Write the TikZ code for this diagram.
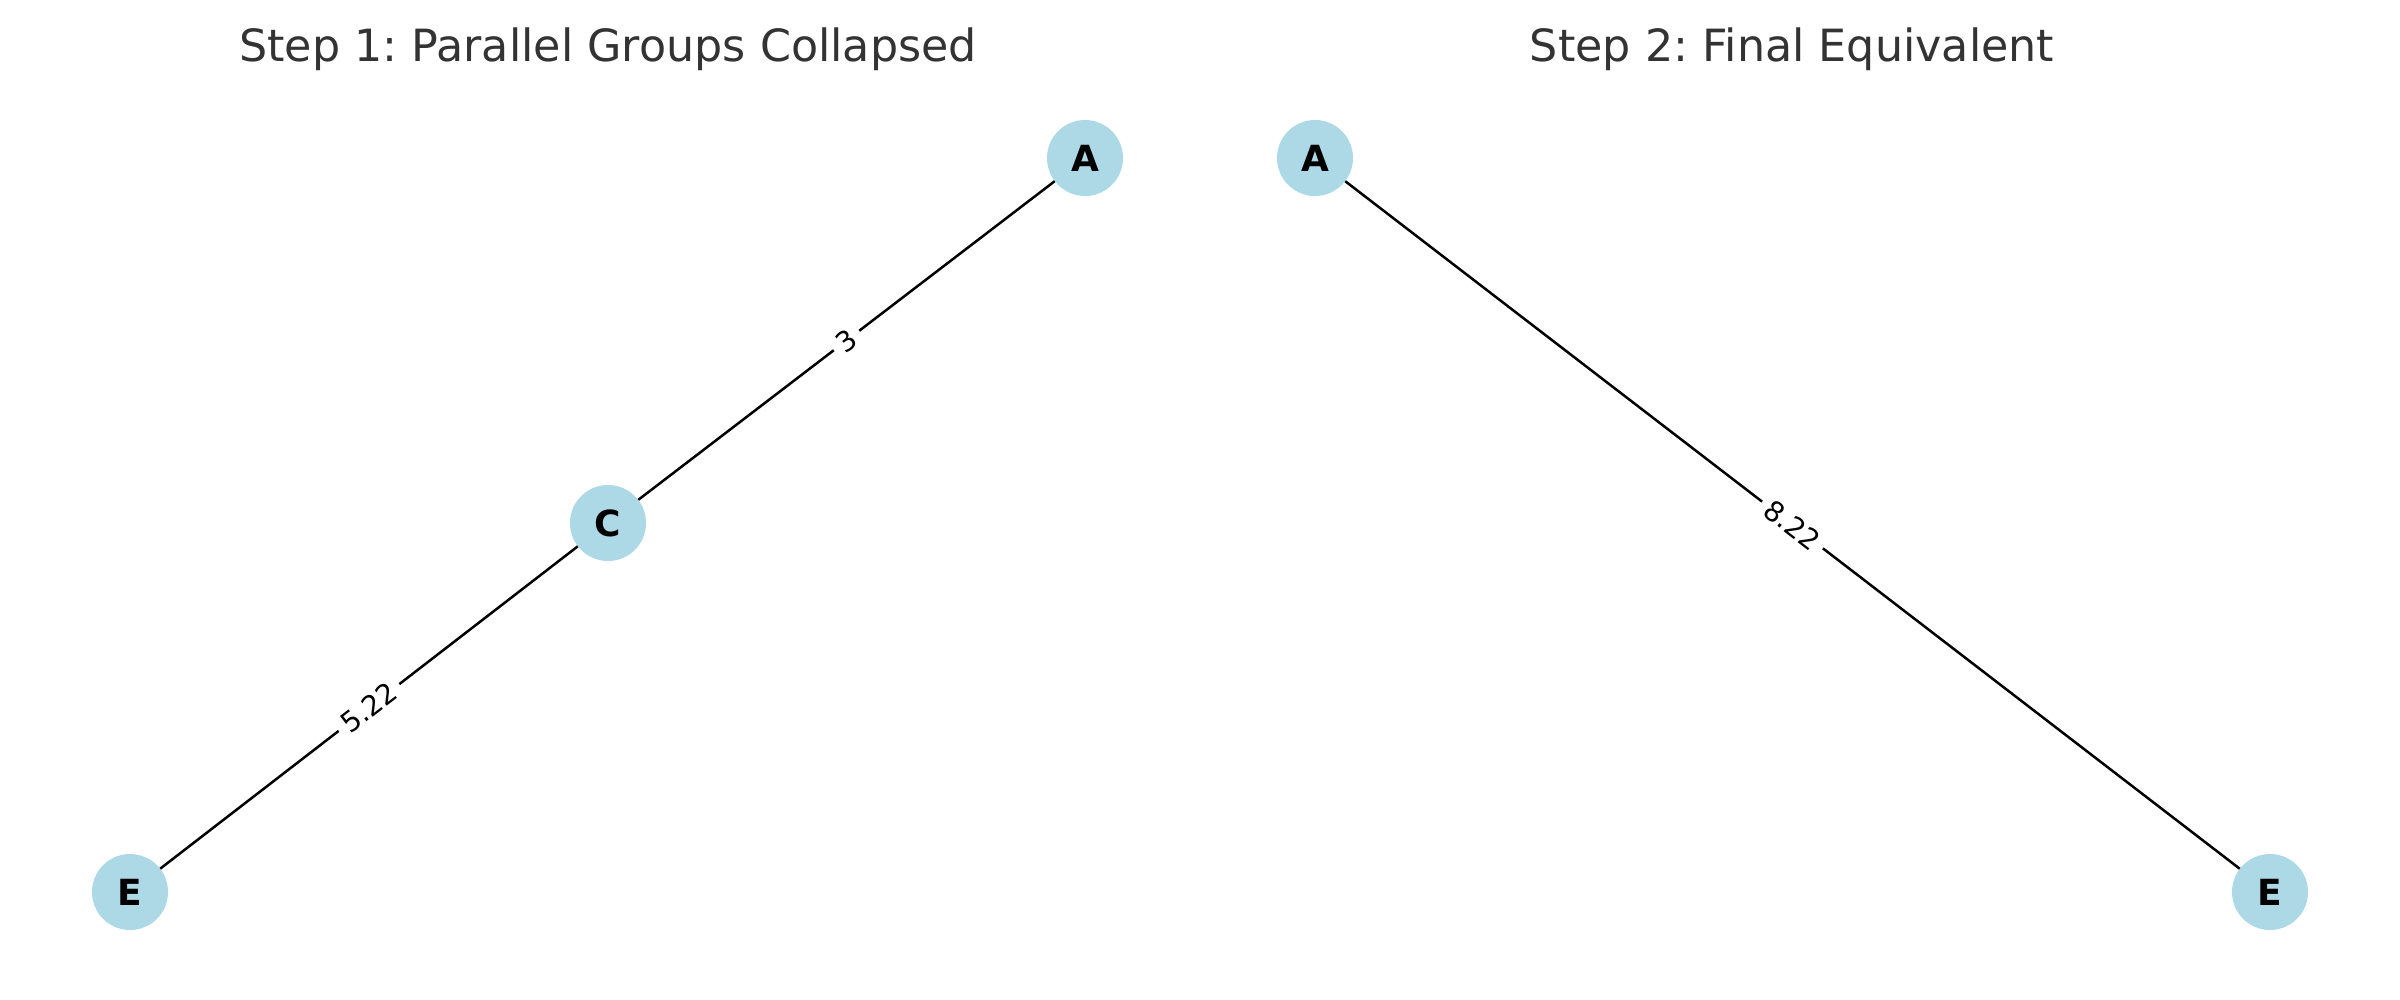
\documentclass[tikz,border=0pt]{standalone}
\usepackage{fontspec}
\setmainfont{DejaVu Sans}
\frenchspacing
\definecolor{nodeblue}{HTML}{ADD8E6}
\definecolor{titlegray}{HTML}{333333}
\tikzset{
  vtx/.style={circle, fill=nodeblue, minimum size=76pt, inner sep=0pt,
    font=\fontsize{36}{40}\selectfont\bfseries, text=black},
  edge/.style={draw=black, line width=2.5pt},
  elabel/.style={fill=white, inner sep=7pt, font=\fontsize{28}{30}\selectfont, text=black},
  ttl/.style={font=\fontsize{44.4}{50}\selectfont, text=titlegray}
}
\begin{document}
\begin{tikzpicture}[x=1pt, y=-1pt]
\useasboundingbox[fill=white] (0,0) rectangle (2400,1000);
\node[ttl] (t1) at (608,49) {Step 1: Parallel Groups Collapsed};
\node[ttl] (t2) at (1792,49) {Step 2: Final Equivalent};
\node[vtx] (A1) at (1085,158) {A};
\node[vtx] (C) at (608,523) {C};
\node[vtx] (E1) at (130,892) {E};
\node[vtx] (A2) at (1315,158) {A};
\node[vtx] (E2) at (2270,892) {E};
\draw[edge] (A1) -- node[elabel, rotate=37.4] {3} (C);
\draw[edge] (C) -- node[elabel, rotate=37.6] {5.22} (E1);
\draw[edge] (A2) -- node[elabel, rotate=-37.5] {8.22} (E2);
\end{tikzpicture}
\end{document}
